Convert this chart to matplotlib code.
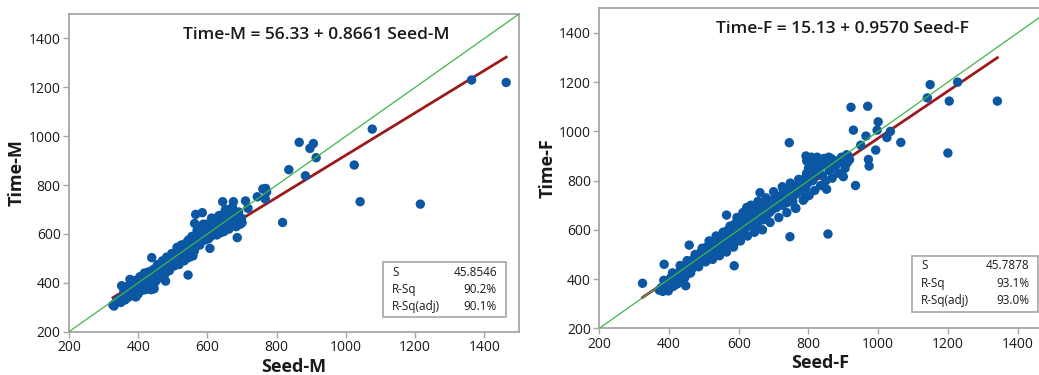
import matplotlib
matplotlib.use("Agg")
import matplotlib.pyplot as plt
from matplotlib.patches import Rectangle

plt.rcParams['font.family'] = ['Open Sans', 'DejaVu Sans']

# ---------------- data: male panel ----------------
seed_m = [330, 335, 340, 348, 352, 360, 365, 370, 372, 378, 380, 385, 388, 390, 392, 395, 398, 400,
          402, 405, 408, 410, 412, 415, 418, 420, 422, 425, 428, 430, 432, 435, 438, 440, 442, 445,
          448, 450, 452, 455, 458, 460, 462, 465, 468, 470, 472, 475, 478, 480, 482, 485, 488, 490,
          492, 495, 498, 500, 502, 505, 508, 510, 512, 515, 518, 520, 522, 525, 528, 530, 532, 535,
          538, 540, 542, 545, 548, 550, 552, 555, 558, 560, 562, 565, 568, 570, 572, 575, 578, 580,
          585, 588, 590, 595, 600, 605, 610, 615, 620, 625, 628, 630, 635, 640, 645, 648, 650, 655,
          658, 660, 665, 668, 670, 675, 680, 685, 690, 695,
          350, 358, 362, 368, 375, 382, 386, 393, 400, 405, 412, 418, 425, 430, 436, 444, 450, 456,
          462, 470, 475, 482, 490, 497, 505, 512, 518, 525, 533, 540, 548, 555, 562, 570, 578, 583,
          592, 598, 603, 612, 618, 633, 638, 652, 662, 672, 683, 690, 698,
          327, 352, 394, 376, 446, 439, 479, 544, 563, 566, 585, 607, 627, 644, 675, 686, 700, 710,
          717, 744, 760, 767, 768, 771, 817, 835, 865, 883, 896, 906, 914, 1024, 1041, 1076, 1215,
          1363, 1463]
time_m = [305, 318, 330, 325, 340, 345, 355, 340, 362, 375, 350, 368, 395, 380, 343, 372, 400, 390,
          365, 410, 385, 378, 405, 395, 420, 372, 398, 412, 388, 430, 405, 420, 395, 445, 375, 428,
          412, 440, 462, 425, 448, 438, 470, 455, 430, 462, 480, 450, 468, 490, 445, 475, 500, 465,
          485, 510, 478, 495, 470, 520, 500, 485, 530, 505, 490, 540, 515, 498, 530, 545, 510, 525,
          555, 500, 540, 575, 520, 560, 535, 570, 510, 555, 590, 545, 575, 600, 560, 585, 620, 570,
          610, 640, 595, 625, 610, 630, 590, 640, 655, 620, 600, 660, 645, 625, 680, 610, 660, 695,
          640, 675, 700, 630, 660, 690, 645, 670, 655, 640,
          320, 372, 330, 385, 345, 400, 355, 410, 355, 425, 370, 440, 380, 445, 372, 455, 405, 475,
          420, 490, 430, 505, 450, 520, 470, 545, 475, 555, 490, 565, 505, 590, 530, 615, 555, 600,
          575, 640, 580, 665, 600, 675, 605, 700, 620, 710, 630, 690, 665,
          309, 388, 343, 414, 376, 503, 407, 432, 643, 680, 687, 541, 596, 732, 732, 585, 646, 735,
          705, 752, 784, 743, 786, 772, 647, 863, 975, 838, 950, 970, 912, 882, 732, 1029, 722,
          1230, 1220]
fit_m = (56.33, 0.8661)
stats_m = ["45.8546", "90.2%", "90.1%"]

# ---------------- data: female panel ----------------
seed_f = [372, 378, 382, 388, 392, 395, 400, 402, 405, 408, 410, 412, 415, 418, 420, 423, 425, 428,
          430, 433, 436, 438, 440, 443, 445, 448, 450, 452, 455, 458, 460, 463, 465, 468, 470, 472,
          475, 478, 480, 483, 485, 488, 490, 492, 495, 498, 500, 502, 505, 508, 510, 512, 515, 518,
          520, 522, 525, 528, 530, 532, 535, 538, 540, 542, 545, 548, 550, 552, 555, 558, 560, 562,
          565, 568, 570, 572, 575, 578, 580, 582, 585, 588, 590, 592, 595, 598, 600, 602, 605, 608,
          610, 612, 615, 618, 620, 622, 625, 628, 630, 632, 635, 638, 640, 643, 645, 648, 650, 652,
          655, 658, 660, 665, 668, 670, 672, 675, 678, 680, 685, 688, 690, 695, 698, 700, 705, 708,
          710, 715, 720, 725, 728, 730, 735, 738, 740, 745, 750, 752, 755, 758, 760, 765, 770, 775,
          778, 780, 785, 790, 792, 795, 798, 800, 805, 810, 812, 815, 820, 825, 828, 830, 835, 840,
          845, 850, 855, 860, 865, 870, 880, 890, 895,
          385, 398, 410, 420, 432, 440, 452, 462, 475, 485, 495, 505, 515, 525, 535, 545, 555, 565,
          575, 585, 595, 605, 612, 625, 635, 645, 655, 668, 678, 690, 700, 715, 725, 738, 748, 762,
          772, 785, 795, 802, 808, 818, 825, 835, 840, 850, 858, 868, 878, 885, 898, 905, 910, 918,
          324, 386, 458, 448, 587, 565, 623, 661, 745, 747, 764, 790, 793, 814, 852, 856, 900, 911,
          914, 922, 929, 935, 950, 965, 970, 972, 974, 993, 997, 1000, 1025, 1035, 1065, 1141,
          1149, 1200, 1204, 1228, 1342]
time_f = [355, 365, 350, 372, 380, 360, 390, 372, 405, 385, 395, 370, 410, 392, 420, 400, 382, 418,
          430, 410, 395, 438, 420, 445, 405, 432, 455, 420, 445, 465, 435, 450, 470, 445, 480, 458,
          470, 490, 462, 485, 500, 470, 492, 510, 480, 505, 520, 488, 512, 530, 498, 520, 540, 505,
          525, 545, 510, 532, 555, 520, 540, 500, 560, 530, 550, 575, 510, 545, 565, 530, 580, 550,
          595, 560, 530, 575, 600, 545, 585, 565, 620, 590, 550, 610, 635, 580, 600, 625, 650, 590,
          615, 640, 600, 660, 630, 610, 650, 675, 640, 620, 660, 685, 645, 630, 670, 690, 650, 620,
          680, 700, 660, 690, 640, 670, 705, 680, 650, 700, 690, 670, 710, 680, 720, 700, 740, 690,
          720, 705, 735, 700, 760, 725, 740, 710, 755, 730, 770, 740, 715, 760, 775, 745, 765, 790,
          760, 800, 780, 810, 770, 830, 790, 850, 820, 870, 800, 840, 860, 830, 880, 850, 870, 820,
          890, 860, 880, 840, 890, 870, 880, 875, 895,
          395, 352, 425, 378, 455, 398, 475, 425, 500, 450, 525, 470, 555, 480, 575, 495, 590, 510,
          615, 530, 650, 555, 670, 575, 700, 590, 715, 600, 730, 630, 755, 650, 775, 670, 790, 690,
          805, 720, 880, 740, 895, 760, 895, 780, 880, 800, 895, 810, 860, 830, 880, 850, 905, 885,
          383, 460, 538, 373, 454, 660, 691, 751, 954, 572, 687, 730, 900, 815, 765, 583, 816, 872,
          900, 1098, 1005, 780, 944, 981, 1102, 886, 859, 924, 1005, 1039, 975, 1000, 955, 1136,
          1190, 912, 1123, 1200, 1123]
fit_f = (15.13, 0.9570)
stats_f = ["45.7878", "93.1%", "93.0%"]

ticks = [200, 400, 600, 800, 1000, 1200, 1400]
stat_names = ["S", "R-Sq", "R-Sq(adj)"]

W, H = 1039, 375
fig = plt.figure(figsize=(W / 100, H / 100), dpi=100)

panels = [
    dict(rect=[69 / W, 1 - 331.7 / H, 450 / W, 317.7 / H], xlim=(200, 1500),
         seed=seed_m, time=time_m, fit=fit_m, stats=stats_m, xl="Seed-M", yl="Time-M",
         eq="Time-M = 56.33 + 0.8661 Seed-M", box=(0.698, 0.046, 0.273, 0.173)),
    dict(rect=[599.3 / W, 1 - 328.3 / H, 442 / W, 320 / H], xlim=(200, 1468),
         seed=seed_f, time=time_f, fit=fit_f, stats=stats_f, xl="Seed-F", yl="Time-F",
         eq="Time-F = 15.13 + 0.9570 Seed-F", box=(0.708, 0.052, 0.285, 0.175)),
]

gray = "#a6a6a6"
for p in panels:
    ax = fig.add_axes(p["rect"])
    ax.set_xlim(*p["xlim"])
    ax.set_ylim(200, 1500)
    # reference y = x line
    lo, hi = 200, 1500
    ax.plot([lo, hi], [lo, hi], color="#3fb54a", lw=0.9, zorder=4)
    # fitted line
    a, b = p["fit"]
    x0, x1 = min(p["seed"]), max(p["seed"])
    ax.plot([x0, x1], [a + b * x0, a + b * x1], color="#9b1b1b", lw=2.0, zorder=2)
    ax.scatter(p["seed"], p["time"], s=46, color="#0b57a4", edgecolors="none", zorder=3)
    ax.set_xticks(ticks)
    ax.set_yticks(ticks)
    ax.tick_params(labelsize=10, color=gray, length=4, width=1, labelcolor="#1a1a1a", pad=2)
    for s in ax.spines.values():
        s.set_color(gray)
        s.set_linewidth(1.3)
    ax.set_xlabel(p["xl"], fontsize=13, fontweight="bold", labelpad=2, color="#1a1a1a")
    ax.set_ylabel(p["yl"], fontsize=13, fontweight="bold", labelpad=2, color="#1a1a1a")
    ax.text(0.55, 0.96, p["eq"], transform=ax.transAxes, ha="center", va="top",
            fontsize=12.5, fontweight="semibold", color="#1a1a1a")
    bx, by, bw, bh = p["box"]
    ax.add_patch(Rectangle((bx, by), bw, bh, transform=ax.transAxes, fill=True,
                           facecolor="white", edgecolor=gray, lw=1.2, zorder=5))
    for i, (nm, val) in enumerate(zip(stat_names, p["stats"])):
        yy = by + bh * (0.82 - i * 0.31)
        ax.text(bx + 0.02, yy, nm, transform=ax.transAxes, ha="left", va="center",
                fontsize=8.5, color="#1a1a1a", zorder=6)
        ax.text(bx + bw - 0.02, yy, val, transform=ax.transAxes, ha="right", va="center",
                fontsize=8.5, color="#1a1a1a", zorder=6)

fig.savefig("out.png", dpi=100)
